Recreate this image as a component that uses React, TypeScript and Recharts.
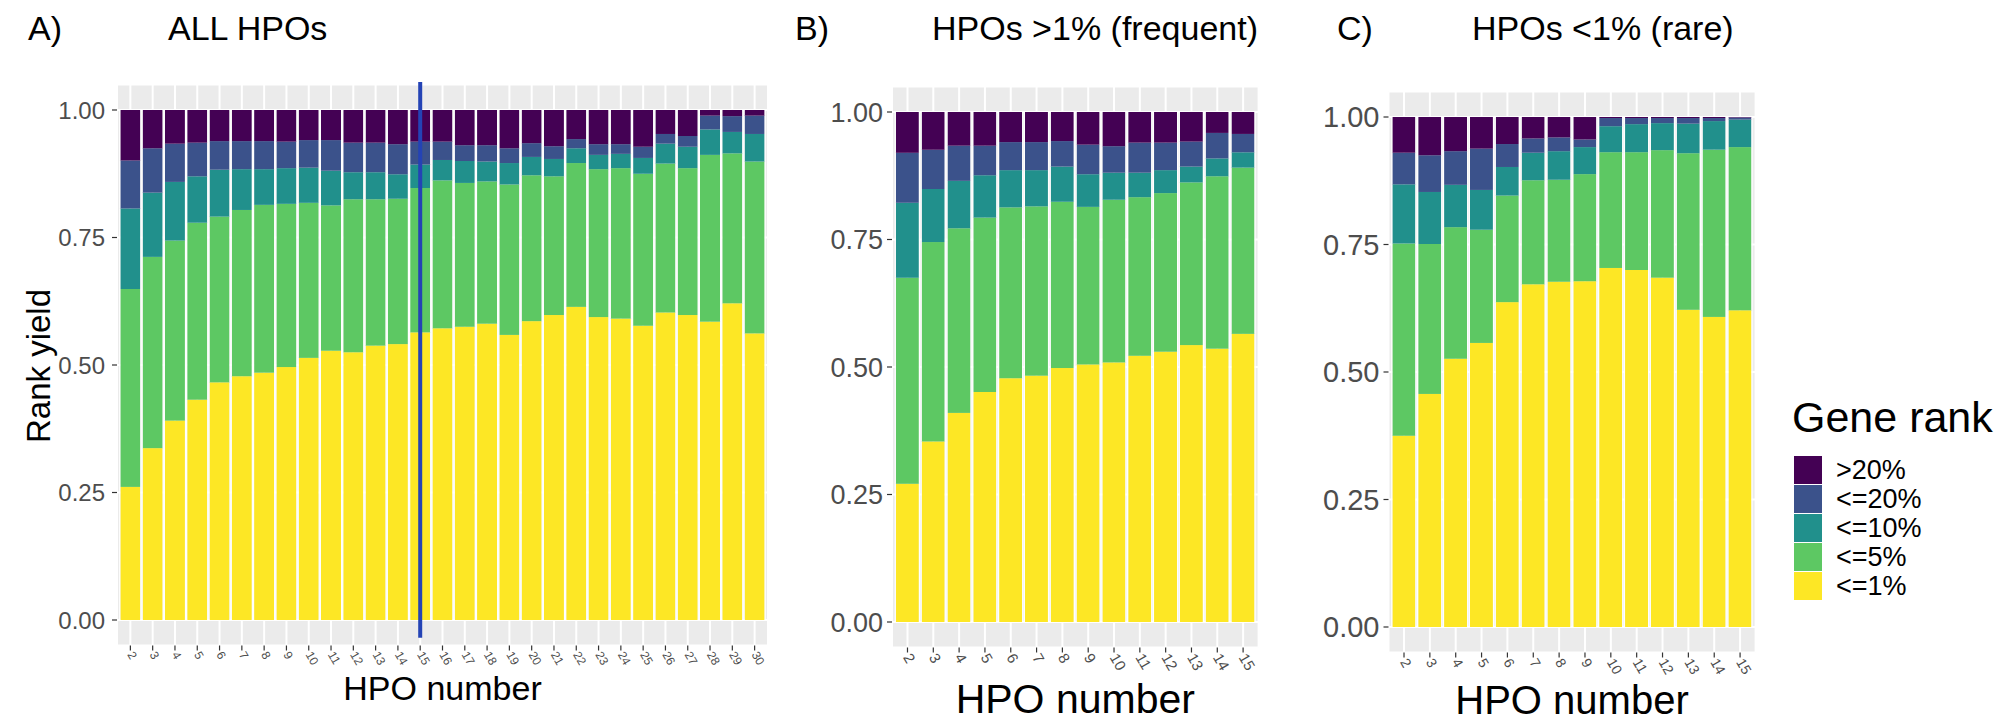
import type { CSSProperties, ReactNode } from 'react'
import { Bar, BarChart, CartesianGrid, ReferenceLine, XAxis, YAxis } from 'recharts'

const FONT = '"Liberation Sans", Arial, Helvetica, sans-serif'

// HPO numbers on the x axes
const HPO_ALL = ['2', '3', '4', '5', '6', '7', '8', '9', '10', '11', '12', '13', '14', '15', '16', '17', '18', '19', '20', '21', '22', '23', '24', '25', '26', '27', '28', '29', '30']
const HPO_SUB = ['2', '3', '4', '5', '6', '7', '8', '9', '10', '11', '12', '13', '14', '15']

// A) all HPOs - share of cases per gene-rank bucket
const allLe1 = [0.261, 0.337, 0.391, 0.432, 0.466, 0.478, 0.485, 0.496, 0.514, 0.528, 0.525, 0.538, 0.541, 0.564, 0.572, 0.575, 0.581, 0.559, 0.586, 0.598, 0.614, 0.594, 0.591, 0.577, 0.603, 0.598, 0.585, 0.621, 0.562]
const allLe5 = [0.388, 0.375, 0.353, 0.347, 0.325, 0.326, 0.329, 0.320, 0.304, 0.285, 0.300, 0.287, 0.285, 0.283, 0.290, 0.282, 0.279, 0.295, 0.286, 0.272, 0.282, 0.290, 0.295, 0.298, 0.292, 0.288, 0.327, 0.294, 0.337]
const allLe10 = [0.158, 0.126, 0.115, 0.091, 0.092, 0.080, 0.070, 0.070, 0.069, 0.068, 0.053, 0.053, 0.048, 0.046, 0.040, 0.043, 0.039, 0.042, 0.036, 0.034, 0.029, 0.028, 0.028, 0.031, 0.039, 0.042, 0.050, 0.042, 0.054]
const allLe20 = [0.094, 0.087, 0.075, 0.066, 0.056, 0.055, 0.055, 0.052, 0.054, 0.060, 0.058, 0.058, 0.059, 0.045, 0.036, 0.031, 0.032, 0.029, 0.027, 0.025, 0.018, 0.021, 0.019, 0.022, 0.019, 0.021, 0.027, 0.031, 0.036]
const allGt20 = [0.099, 0.075, 0.066, 0.064, 0.061, 0.061, 0.061, 0.062, 0.059, 0.059, 0.064, 0.064, 0.067, 0.062, 0.062, 0.069, 0.069, 0.075, 0.065, 0.071, 0.057, 0.067, 0.067, 0.072, 0.047, 0.051, 0.011, 0.012, 0.011]

// B) HPOs >1% (frequent)
const freqLe1 = [0.271, 0.354, 0.410, 0.451, 0.478, 0.483, 0.498, 0.505, 0.509, 0.522, 0.530, 0.543, 0.536, 0.565]
const freqLe5 = [0.404, 0.391, 0.362, 0.342, 0.335, 0.332, 0.326, 0.309, 0.319, 0.311, 0.311, 0.319, 0.338, 0.326]
const freqLe10 = [0.147, 0.104, 0.093, 0.083, 0.073, 0.071, 0.069, 0.064, 0.053, 0.048, 0.045, 0.031, 0.035, 0.030]
const freqLe20 = [0.098, 0.077, 0.069, 0.058, 0.055, 0.055, 0.050, 0.058, 0.052, 0.059, 0.054, 0.049, 0.050, 0.036]
const freqGt20 = [0.080, 0.074, 0.066, 0.066, 0.059, 0.059, 0.057, 0.064, 0.067, 0.060, 0.060, 0.058, 0.041, 0.043]

// C) HPOs <1% (rare)
const rareLe1 = [0.375, 0.457, 0.526, 0.557, 0.637, 0.672, 0.677, 0.678, 0.704, 0.700, 0.685, 0.622, 0.608, 0.621]
const rareLe5 = [0.377, 0.294, 0.258, 0.222, 0.209, 0.204, 0.200, 0.210, 0.227, 0.231, 0.250, 0.307, 0.328, 0.320]
const rareLe10 = [0.116, 0.102, 0.083, 0.078, 0.056, 0.054, 0.056, 0.053, 0.051, 0.055, 0.053, 0.058, 0.056, 0.054]
const rareLe20 = [0.062, 0.072, 0.066, 0.081, 0.045, 0.028, 0.027, 0.015, 0.016, 0.012, 0.010, 0.011, 0.006, 0.004]
const rareGt20 = [0.070, 0.075, 0.067, 0.062, 0.053, 0.042, 0.040, 0.044, 0.002, 0.002, 0.002, 0.002, 0.002, 0.001]

const Y_TICKS = [0, 0.25, 0.5, 0.75, 1]

// stacking order, bottom first (viridis)
const RANKS = [
  { key: 'le1', label: '<=1%', color: '#FDE725' },
  { key: 'le5', label: '<=5%', color: '#5DC863' },
  { key: 'le10', label: '<=10%', color: '#21908C' },
  { key: 'le20', label: '<=20%', color: '#3B528B' },
  { key: 'gt20', label: '>20%', color: '#440154' },
]

type Frame = {
  left: number
  plotLeft: number
  plotRight: number
  plotTop: number
  plotBottom: number
}

type PanelProps = {
  frame: Frame
  categories: string[]
  series: number[][]
  yFont: number
  yGap: number
  xFont: number
  marker?: { x: string; from: number; to: number }
}

// bar with white side edges, so neighbouring bars read as separated
function EdgedBar(props: any) {
  const { x, y, width, height, fill } = props
  if (!height || height <= 0) return <g />
  return (
    <g>
      <rect x={x} y={y} width={width} height={height} fill={fill} />
      <line x1={x - 0.6} x2={x - 0.6} y1={y} y2={y + height} stroke="#FFFFFF" strokeWidth={1.2} />
      <line x1={x + width + 0.6} x2={x + width + 0.6} y1={y} y2={y + height} stroke="#FFFFFF" strokeWidth={1.2} />
    </g>
  )
}

function RotatedTick(fontSize: number) {
  return (props: any) => {
    const { x, y, payload } = props
    return (
      <text
        transform={`translate(${x},${y}) rotate(60)`}
        fontSize={fontSize}
        fontFamily={FONT}
        fill="#4D4D4D"
        textAnchor="start"
        dominantBaseline="central"
      >
        {payload.value}
      </text>
    )
  }
}

function StackedPanel({ frame, categories, series, yFont, yGap, xFont, marker }: PanelProps) {
  const xAxisHeight = 60
  const width = frame.plotRight - frame.left
  const height = frame.plotBottom + xAxisHeight
  const unit = (frame.plotRight - frame.plotLeft) / (categories.length + 0.2)
  const data = categories.map((hpo, i) => {
    const row: Record<string, string | number> = { hpo }
    RANKS.forEach((rank, r) => {
      row[rank.key] = series[r][i]
    })
    return row
  })

  return (
    <div style={{ position: 'absolute', left: frame.left, top: 0 }}>
      <BarChart
        width={width}
        height={height}
        data={data}
        margin={{ top: frame.plotTop, right: 0, bottom: 0, left: 0 }}
        barCategoryGap="5%"
      >
        <CartesianGrid fill="#EBEBEB" fillOpacity={1} stroke="#FFFFFF" strokeWidth={2} />
        <XAxis
          dataKey="hpo"
          interval={0}
          height={xAxisHeight}
          padding={{ left: unit * 0.1, right: unit * 0.1 }}
          axisLine={false}
          tickLine={{ stroke: '#333333', strokeWidth: 1.2 }}
          tickSize={5}
          tickMargin={2}
          tick={RotatedTick(xFont)}
        />
        <YAxis
          type="number"
          width={frame.plotLeft - frame.left}
          domain={[-0.05, 1.05]}
          ticks={Y_TICKS}
          allowDataOverflow
          axisLine={false}
          tickLine={{ stroke: '#333333', strokeWidth: 1.2 }}
          tickSize={5}
          tickMargin={yGap}
          tick={{ fill: '#4D4D4D', fontSize: yFont, fontFamily: FONT }}
          tickFormatter={(v: number) => v.toFixed(2)}
        />
        {RANKS.map(rank => (
          <Bar
            key={rank.key}
            dataKey={rank.key}
            stackId="rank"
            fill={rank.color}
            shape={EdgedBar}
            isAnimationActive={false}
          />
        ))}
        {marker && (
          <ReferenceLine
            segment={[
              { x: marker.x, y: marker.from },
              { x: marker.x, y: marker.to },
            ]}
            stroke="#2443B5"
            strokeWidth={4}
            ifOverflow="visible"
          />
        )}
      </BarChart>
    </div>
  )
}

function Text({ left, baseline, size, children, style }: { left: number; baseline: number; size: number; children: ReactNode; style?: CSSProperties }) {
  return (
    <div
      style={{
        position: 'absolute',
        left,
        top: baseline - 0.8465 * size,
        fontSize: size,
        lineHeight: 1,
        fontFamily: FONT,
        color: '#000000',
        whiteSpace: 'nowrap',
        ...style,
      }}
    >
      {children}
    </div>
  )
}

function CenteredText({ center, baseline, size, children }: { center: number; baseline: number; size: number; children: ReactNode }) {
  return (
    <Text left={center - 200} baseline={baseline} size={size} style={{ width: 400, textAlign: 'center', height: size * 0.95 }}>
      {children}
    </Text>
  )
}

export default function App() {
  return (
    <div style={{ position: 'absolute', left: 0, top: 0, width: 2010, height: 721, background: '#FFFFFF', overflow: 'hidden' }}>
      <StackedPanel
        frame={{ left: 0, plotLeft: 117, plotRight: 768, plotTop: 84.5, plotBottom: 645.5 }}
        categories={HPO_ALL}
        series={[allLe1, allLe5, allLe10, allLe20, allGt20]}
        yFont={24}
        yGap={7}
        xFont={12}
        marker={{ x: '15', from: 1.055, to: -0.035 }}
      />
      <StackedPanel
        frame={{ left: 792, plotLeft: 892, plotRight: 1258.6, plotTop: 86.5, plotBottom: 647.5 }}
        categories={HPO_SUB}
        series={[freqLe1, freqLe5, freqLe10, freqLe20, freqGt20]}
        yFont={27}
        yGap={4}
        xFont={15}
      />
      <StackedPanel
        frame={{ left: 1288, plotLeft: 1388.5, plotRight: 1755.6, plotTop: 91.5, plotBottom: 652.5 }}
        categories={HPO_SUB}
        series={[rareLe1, rareLe5, rareLe10, rareLe20, rareGt20]}
        yFont={29}
        yGap={4}
        xFont={14}
      />

      {/* panel titles */}
      <Text left={28} baseline={40} size={34}>A)</Text>
      <Text left={168} baseline={40} size={34}>ALL HPOs</Text>
      <Text left={795} baseline={40} size={34}>B)</Text>
      <Text left={932} baseline={40} size={34}>HPOs &gt;1% (frequent)</Text>
      <Text left={1337} baseline={40} size={34}>C)</Text>
      <Text left={1472} baseline={40} size={34}>HPOs &lt;1% (rare)</Text>

      {/* axis titles */}
      <CenteredText center={442.5} baseline={700} size={34}>HPO number</CenteredText>
      <CenteredText center={1075.3} baseline={714} size={41}>HPO number</CenteredText>
      <CenteredText center={1572} baseline={714} size={40}>HPO number</CenteredText>
      <div
        style={{
          position: 'absolute',
          left: 38,
          top: 366,
          transform: 'translate(-50%, -50%) rotate(-90deg)',
          fontSize: 33,
          lineHeight: 1,
          fontFamily: FONT,
          whiteSpace: 'nowrap',
        }}
      >
        Rank yield
      </div>

      {/* legend */}
      <Text left={1792} baseline={432} size={43}>Gene rank</Text>
      {[...RANKS].reverse().map((rank, i) => (
        <div key={rank.key}>
          <div style={{ position: 'absolute', left: 1794, top: 456 + i * 29, width: 28, height: 28, background: rank.color }} />
          <Text left={1836} baseline={456 + i * 29 + 24} size={27}>{rank.label}</Text>
        </div>
      ))}
    </div>
  )
}
